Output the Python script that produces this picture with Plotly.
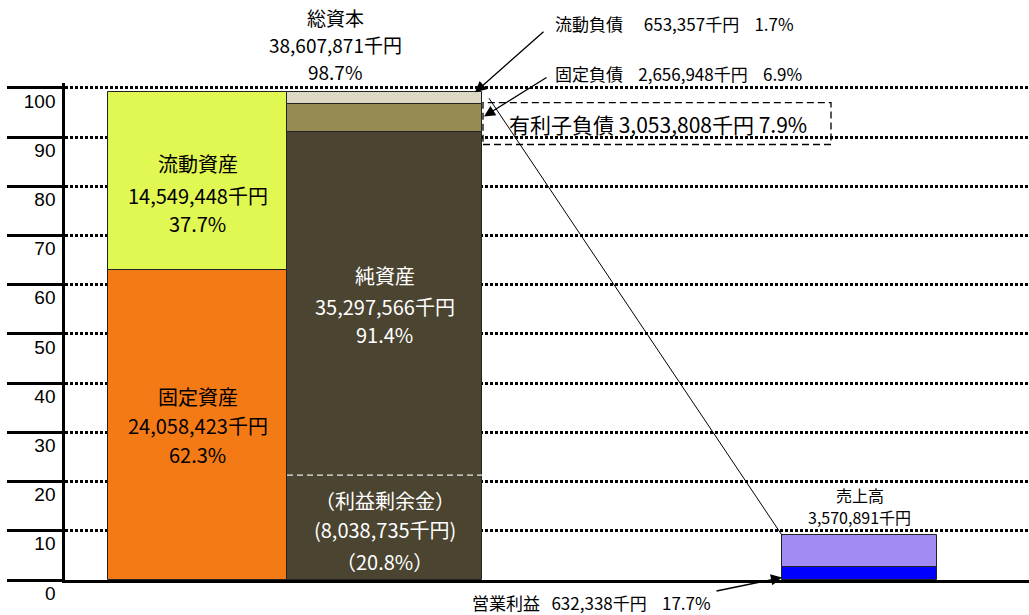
import plotly.graph_objects as go

# ---- data (percent of total capital, as drawn) ----
asset_names = ["固定資産", "流動資産"]
asset_values = [63.0, 36.1]
asset_colors = ["#F47A15", "#E1F752"]

liab_names = ["純資産", "固定負債", "流動負債"]
liab_values = [91.0, 5.65, 2.5]
liab_colors = ["#4A4430", "#958B53", "#DDD8C3"]

sales_names = ["営業利益", "売上高"]
sales_values = [2.6, 6.5]
sales_colors = ["#0000FF", "#A28CF3"]

retained_value = 21.3
debt_box = [88.5, 97.0]

y_ticks = [0, 10, 20, 30, 40, 50, 60, 70, 80, 90, 100]
Y_MAX = 101

FONT = "Noto Sans CJK JP"

# column positions (x axis in pixel-like units)
col_asset = (108, 287)
col_liab = (287, 482)
col_sales = (782, 937)


def stacked(fig, col, names, values, colors):
    base = 0.0
    cx = (col[0] + col[1]) / 2
    w = col[1] - col[0]
    for n, v, c in zip(names, values, colors):
        fig.add_trace(go.Bar(
            x=[cx], y=[v], base=[base], width=[w], name=n,
            marker=dict(color=c, line=dict(color="#222222", width=1)),
            showlegend=False, hoverinfo="skip"))
        base += v


fig = go.Figure()
stacked(fig, col_asset, asset_names, asset_values, asset_colors)
stacked(fig, col_liab, liab_names, liab_values, liab_colors)
stacked(fig, col_sales, sales_names, sales_values, sales_colors)

shapes = []
shapes.append(dict(type="line", xref="x", yref="y", x0=col_liab[0], x1=col_liab[1],
                   y0=retained_value, y1=retained_value,
                   line=dict(color="#E8E8E8", width=1.2, dash="6px,4px")))
shapes.append(dict(type="rect", xref="x", yref="y", x0=col_liab[1] + 1, x1=831,
                   y0=debt_box[0], y1=debt_box[1],
                   line=dict(color="#000000", width=1.3, dash="7px,4px")))
shapes.append(dict(type="line", xref="x", yref="y", x0=489, y0=97.9,
                   x1=col_sales[0], y1=sum(sales_values),
                   line=dict(color="#000000", width=1)))

ann = []


def txt(x, y, s, size, color="#000000", anchor="center"):
    ann.append(dict(x=x, y=y / Y_MAX, xref="x", yref="paper", text=s, showarrow=False,
                    xanchor=anchor, yanchor="middle",
                    font=dict(family=FONT, size=size, color=color)))


ca = (col_asset[0] + col_asset[1]) / 2
cl = (col_liab[0] + col_liab[1]) / 2
cs = (col_sales[0] + col_sales[1]) / 2

S = 20
txt(ca, 84.6, "流動資産", S)
txt(ca, 78.1, "14,549,448千円", S)
txt(ca, 72.4, "37.7%", S)
txt(ca, 37.2, "固定資産", S)
txt(ca, 31.3, "24,058,423千円", S)
txt(ca, 25.6, "62.3%", S)
txt(cl, 61.8, "純資産", S, "#FFFFFF")
txt(cl, 55.6, "35,297,566千円", S, "#FFFFFF")
txt(cl, 49.8, "91.4%", S, "#FFFFFF")
txt(cl, 16.1, "（利益剰余金）", S, "#FFFFFF")
txt(cl, 10.2, "(8,038,735千円)", S, "#FFFFFF")
txt(cl, 3.75, "（20.8%）", S, "#FFFFFF")
txt(335, 114.3, "総資本", 19)
txt(335, 108.8, "38,607,871千円", 19)
txt(335, 103.4, "98.7%", 19)
txt(553, 113.0, "流動負債\u3000\u00a0653,357千円\u00a0\u00a0\u00a0\u00a01.7%", 17, anchor="left")
txt(553, 102.9, "固定負債\u00a0\u00a0\u00a0\u00a02,656,948千円\u00a0\u00a0\u00a0\u00a06.9%", 17, anchor="left")
txt(507, 92.6, "有利子負債\u00a03,053,808千円\u00a07.9%", 21, anchor="left")
txt(cs, 17.3, "売上高", 16)
txt(cs, 12.9, "3,570,891千円", 16)
txt(470, -4.6, "営業利益\u00a0\u00a0\u00a0632,338千円\u00a0\u00a0\u00a0\u00a017.7%", 17, anchor="left")


def arrow(x, y, ax, ay):
    ann.append(dict(x=x, y=y, ax=ax, ay=ay, xref="x", yref="y", axref="x", ayref="y",
                    text="", showarrow=True, arrowhead=2, arrowsize=1.7,
                    arrowwidth=1.3, arrowcolor="#000000"))


arrow(475, 99.1, 545, 111.7)
arrow(484, 94.2, 548, 102.3)
arrow(782, 0.5, 715, -2.3)

fig.update_layout(
    width=1029, height=615,
    margin=dict(l=65, r=0, t=83, b=35),
    paper_bgcolor="white", plot_bgcolor="white",
    barmode="overlay", bargap=0,
    shapes=shapes, annotations=ann,
    xaxis=dict(range=[65, 1029], showgrid=False, zeroline=False, showticklabels=False,
               ticks="", showline=True, linecolor="#000000", linewidth=2.5, fixedrange=True),
    yaxis=dict(range=[0, Y_MAX], tickvals=y_ticks, ticktext=[str(v) for v in y_ticks],
               showgrid=True, gridcolor="#000000", gridwidth=2.5, griddash="3px,2px",
               zeroline=False, showline=True, linecolor="#000000", linewidth=2.5,
               ticks="outside", ticklen=55, tickwidth=2.5, tickcolor="#000000",
               ticklabelshift=13, ticklabelstandoff=-52,
               tickfont=dict(family="Liberation Sans", size=19, color="#000000"),
               fixedrange=True),
)

fig.write_html("out.html", config={"displayModeBar": False},
               post_script="document.body.style.margin='0';")
